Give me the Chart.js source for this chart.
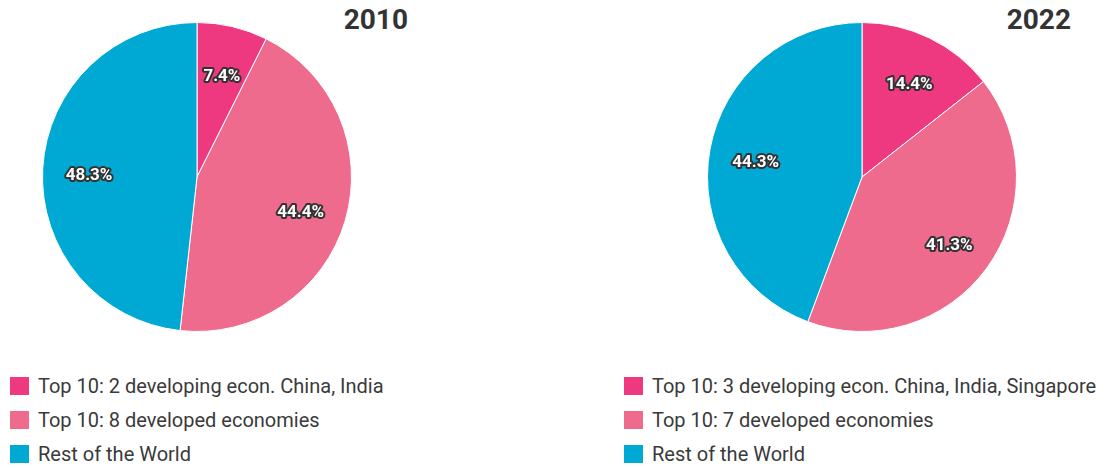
<!DOCTYPE html>
<html>
<head>
<meta charset="utf-8">
<script src="https://cdn.jsdelivr.net/npm/chart.js@4"></script>
<style>
  body { margin: 0; background: #fff; font-family: Roboto, sans-serif; }
  #page { position: relative; width: 1109px; height: 468px; overflow: hidden; }
  .pie { position: absolute; top: 22px; width: 310px; height: 310px; }
  .title { position: absolute; top: 3px; font: bold 28px Roboto, sans-serif; color: #333; text-align: right; }
  .legend { position: absolute; top: 376px; margin: 0; padding: 0; list-style: none; }
  .legend li { height: 34px; display: flex; align-items: flex-start; font-size: 20px; color: #3a3a3a; white-space: nowrap; }
  .legend span.box { width: 19px; height: 18px; margin-right: 9px; display: inline-block; margin-top: 1px; }
  .legend span.txt { line-height: 20px; }
</style>
</head>
<body>
<div id="page">
  <div class="title" style="left:200px;width:208px">2010</div>
  <div class="title" style="left:863px;width:208px">2022</div>
  <div class="pie" style="left:42px"><canvas id="pie2010"></canvas></div>
  <div class="pie" style="left:707px"><canvas id="pie2022"></canvas></div>
  <ul class="legend" id="legend2010" style="left:10px"></ul>
  <ul class="legend" id="legend2022" style="left:624px"></ul>
</div>
<script>
// data
const labels2010 = ['Top 10: 2 developing econ. China, India', 'Top 10: 8 developed economies', 'Rest of the World'];
const labels2022 = ['Top 10: 3 developing econ. China, India, Singapore', 'Top 10: 7 developed economies', 'Rest of the World'];
const values2010 = [7.4, 44.4, 48.3];
const values2022 = [14.4, 41.3, 44.3];
const colors = ['#EE3880', '#EF6B8D', '#00A9D4'];

/**
 * Draws the percent label of each slice, white with a dark outline
 */
const sliceLabels = {
    id: 'sliceLabels',
    afterDatasetsDraw(chart) {
        const ctx = chart.ctx;
        const meta = chart.getDatasetMeta(0);
        const values = chart.data.datasets[0].data;
        ctx.save();
        ctx.font = 'bold 17px Roboto, sans-serif';
        ctx.textAlign = 'center';
        ctx.textBaseline = 'middle';
        ctx.lineJoin = 'round';
        meta.data.forEach((arc, i) => {
            const mid = (arc.startAngle + arc.endAngle) / 2;
            const r = arc.outerRadius * 0.7;
            const x = arc.x + Math.cos(mid) * r;
            const y = arc.y + Math.sin(mid) * r + 5;
            const text = values[i].toFixed(1) + '%';
            ctx.lineWidth = 4;
            ctx.strokeStyle = '#333';
            ctx.strokeText(text, x, y);
            ctx.fillStyle = '#fff';
            ctx.fillText(text, x, y);
        });
        ctx.restore();
    }
};

function makePie(id, labels, values) {
    return new Chart(document.getElementById(id), {
        type: 'pie',
        data: {
            labels: labels,
            datasets: [{
                data: values,
                backgroundColor: colors,
                borderColor: '#fff',
                borderWidth: 1
            }]
        },
        options: {
            responsive: true,
            maintainAspectRatio: false,
            animation: false,
            layout: { padding: 0 },
            plugins: {
                legend: { display: false },
                tooltip: { enabled: false }
            }
        },
        plugins: [sliceLabels]
    });
}

function makeLegend(id, labels) {
    const ul = document.getElementById(id);
    labels.forEach((label, i) => {
        let li = document.createElement('li');
        li.innerHTML = '<span class="box" style="background:' + colors[i] + '"></span><span class="txt">' + label + '</span>';
        ul.appendChild(li);
    });
}

makePie('pie2010', labels2010, values2010);
makePie('pie2022', labels2022, values2022);
makeLegend('legend2010', labels2010);
makeLegend('legend2022', labels2022);
</script>
</body>
</html>
